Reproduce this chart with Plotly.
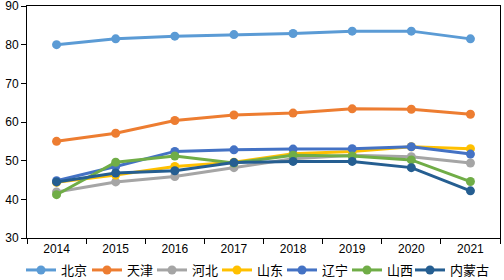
import plotly.graph_objects as go

years = ["2014", "2015", "2016", "2017", "2018", "2019", "2020", "2021"]
names = ["北京", "天津", "河北", "山东", "辽宁", "山西", "内蒙古"]
beijing = [80.0, 81.5, 82.2, 82.6, 82.9, 83.5, 83.5, 81.5]
tianjin = [55.0, 57.1, 60.4, 61.8, 62.3, 63.4, 63.3, 62.0]
hebei = [41.9, 44.5, 45.9, 48.2, 50.5, 51.4, 51.0, 49.4]
shandong = [44.4, 46.3, 48.5, 49.6, 51.8, 52.4, 53.6, 53.1]
liaoning = [44.8, 48.5, 52.4, 52.8, 53.0, 53.1, 53.6, 51.7]
shanxi = [41.2, 49.6, 51.2, 49.4, 51.4, 51.2, 50.2, 44.6]
neimenggu = [44.5, 46.8, 47.4, 49.5, 49.8, 49.8, 48.2, 42.2]

series = [beijing, tianjin, hebei, shandong, liaoning, shanxi, neimenggu]
colors = ["#5B9BD5", "#ED7D31", "#A5A5A5", "#FFC000", "#4472C4", "#70AD47", "#255E91"]
# left edge (px) of each legend entry's line in the reference
legend_px = [26, 92, 157, 222, 287, 352, 415]

W, H = 504, 280
fig = go.Figure()
legend_layouts = {}
for i, (n, v, c) in enumerate(zip(names, series, colors)):
    lg = "legend" if i == 0 else f"legend{i + 1}"
    fig.add_trace(go.Scatter(
        x=years, y=v, name=n, mode="lines+markers",
        line=dict(color=c, width=3),
        marker=dict(color=c, size=9),
        legend=lg,
    ))
    legend_layouts[lg] = dict(
        orientation="h", xref="container", yref="container",
        x=(legend_px[i] - 5) / W, xanchor="left",
        y=10 / H, yanchor="middle",
        font=dict(size=13, family="Noto Sans CJK SC", color="#000000"),
        bgcolor="rgba(0,0,0,0)", borderwidth=0,
    )

fig.update_layout(
    width=W, height=H,
    margin=dict(l=27, r=4, t=6, b=42, autoexpand=False),
    paper_bgcolor="white", plot_bgcolor="white",
    font=dict(family="Liberation Sans, Noto Sans CJK SC", size=12, color="#000000"),
    showlegend=True,
    **legend_layouts,
)
fig.update_xaxes(
    type="category", range=[-0.5, 7.5], automargin=False,
    showline=True, linecolor="#000000", linewidth=1, mirror=True,
    ticks="outside", tickson="boundaries", ticklen=5, tickcolor="#000000",
    showgrid=False, tickfont=dict(size=12),
)
fig.update_yaxes(
    range=[30, 90], dtick=10, automargin=False,
    showline=True, linecolor="#000000", linewidth=1, mirror=True,
    ticks="outside", ticklen=5, tickcolor="#000000",
    showgrid=False, zeroline=False, tickfont=dict(size=12),
    ticklabeloverflow="allow",
)

fig.write_html(
    "out.html",
    config={"displayModeBar": False},
    post_script="document.body.style.margin='0';document.body.style.overflow='hidden';",
)
